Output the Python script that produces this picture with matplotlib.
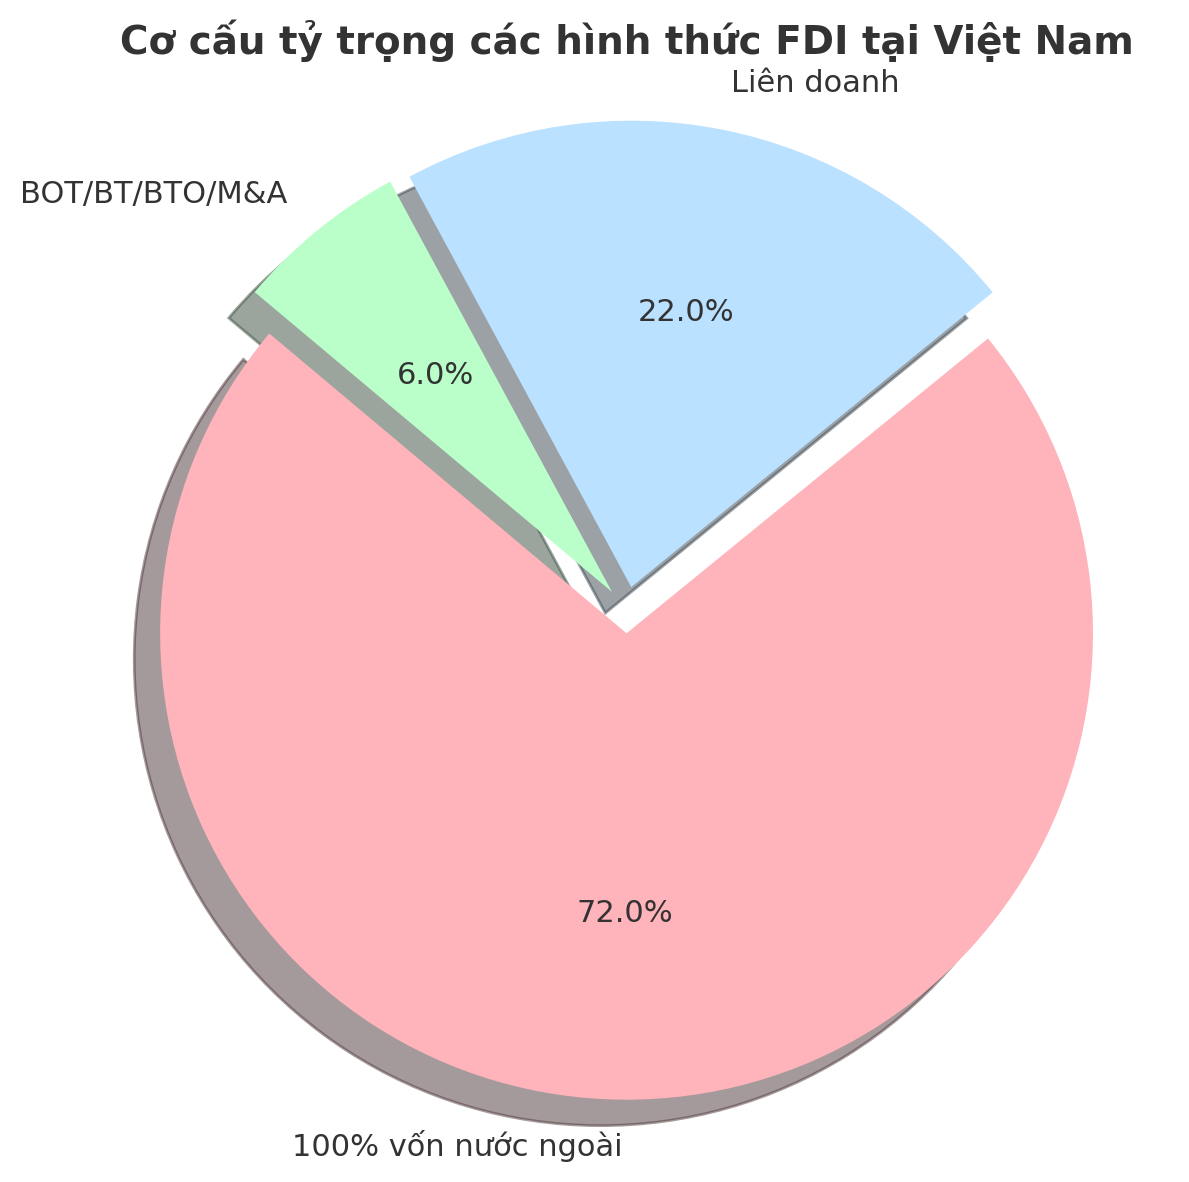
import matplotlib
matplotlib.use('Agg')
import matplotlib.pyplot as plt

labels = ['100% vốn nước ngoài', 'Liên doanh', 'BOT/BT/BTO/M&A']
sizes = [72, 22, 6]
colors = ['#ffb3ba', '#bae1ff', '#baffc9']
explode = (0.05, 0.05, 0.05)

plt.rcParams['text.color'] = '#333333'
plt.rcParams['font.family'] = ['DejaVu Sans']

fig = plt.figure(figsize=(1189 / 200, 1182 / 200), dpi=200)
ax = fig.add_axes([0.0366, -0.0093, 0.981, 0.9865])

ax.pie(sizes, labels=labels, colors=colors, explode=explode,
       autopct='%1.1f%%', startangle=140, shadow=True,
       textprops={'fontsize': 11, 'color': '#333333'})
ax.set_aspect('equal')

fig.text(0.527, 1 - 41 / 1182, 'Cơ cấu tỷ trọng các hình thức FDI tại Việt Nam',
         ha='center', va='center', fontsize=14, fontweight='bold', color='#333333')

fig.savefig('out.png', dpi=200)
